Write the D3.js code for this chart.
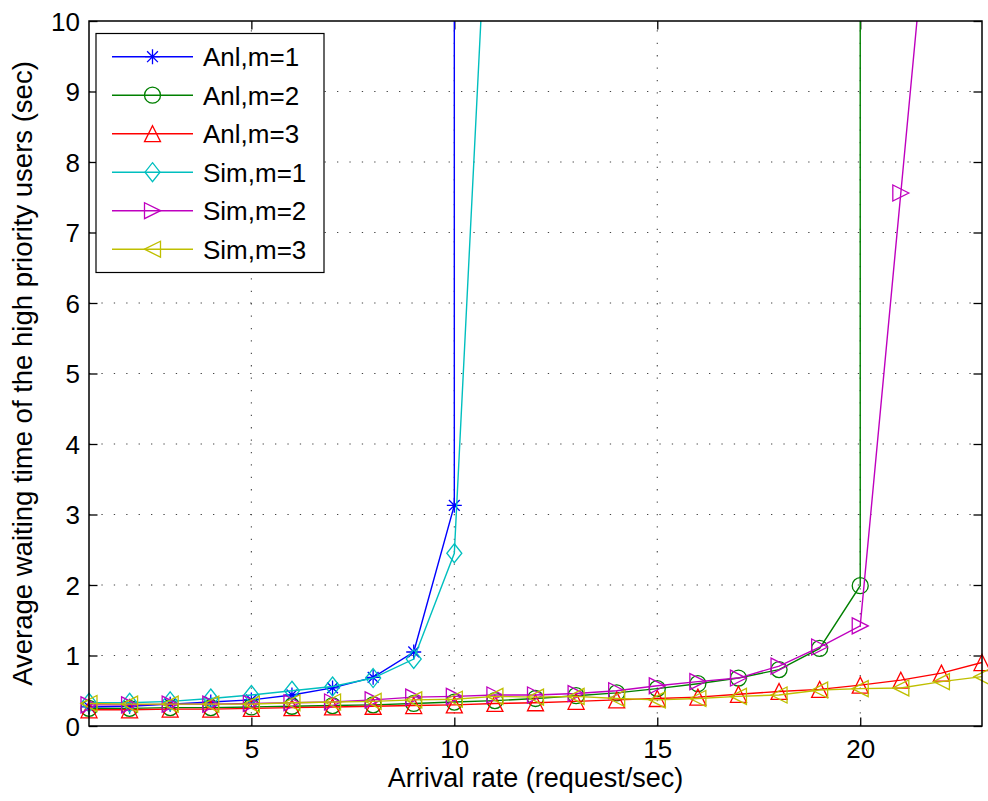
<!DOCTYPE html>
<html><head><meta charset="utf-8">
<script src="https://cdn.jsdelivr.net/npm/d3@7/dist/d3.min.js"></script>
<style>body{margin:0;background:#fff}svg{display:block}</style>
</head><body>
<svg id="c" width="988" height="801"></svg>
<script>
// ---- data ----
const xTicks = [5, 10, 15, 20];
const yTicks = [0,1,2,3,4,5,6,7,8,9,10];
const anl1X = [1,2,3,4,5,6,7,8,9,10,10];
const anl1Y = [0.27,0.28,0.31,0.34,0.37,0.44,0.54,0.69,1.05,3.13,1000];
const anl2X = [1,2,3,4,5,6,7,8,9,10,11,12,13,14,15,16,17,18,19,20,20];
const anl2Y = [0.25,0.25,0.26,0.26,0.27,0.28,0.29,0.30,0.32,0.34,0.36,0.39,0.43,0.47,0.53,0.60,0.68,0.80,1.10,1.99,1000];
const anl3X = [1,2,3,4,5,6,7,8,9,10,11,12,13,14,15,16,17,18,19,20,21,22,23];
const anl3Y = [0.23,0.23,0.24,0.24,0.25,0.26,0.27,0.28,0.29,0.30,0.32,0.33,0.35,0.37,0.39,0.41,0.45,0.49,0.52,0.58,0.65,0.75,0.90];
const sim1X = [1,2,3,4,5,6,7,8,9,10,11];
const sim1Y = [0.33,0.33,0.35,0.39,0.44,0.50,0.56,0.68,0.95,2.45,14.0];
const sim2X = [1,2,3,4,5,6,7,8,9,10,11,12,13,14,15,16,17,18,19,20,21,22];
const sim2Y = [0.30,0.30,0.31,0.31,0.32,0.33,0.34,0.37,0.41,0.42,0.44,0.44,0.46,0.50,0.57,0.63,0.68,0.85,1.12,1.42,7.56,13.7];
const sim3X = [1,2,3,4,5,6,7,8,9,10,11,12,13,14,15,16,17,18,19,20,21,22,23];
const sim3Y = [0.32,0.31,0.31,0.31,0.31,0.33,0.34,0.35,0.37,0.38,0.42,0.41,0.42,0.39,0.37,0.39,0.42,0.44,0.51,0.53,0.54,0.63,0.70];
const seriesNames = ["Anl,m=1","Anl,m=2","Anl,m=3","Sim,m=1","Sim,m=2","Sim,m=3"];

const series = [
  {name: seriesNames[0], xs: anl1X, ys: anl1Y, color: "#0000ff", marker: "star"},
  {name: seriesNames[1], xs: anl2X, ys: anl2Y, color: "#008000", marker: "circle"},
  {name: seriesNames[2], xs: anl3X, ys: anl3Y, color: "#ff0000", marker: "tri-up"},
  {name: seriesNames[3], xs: sim1X, ys: sim1Y, color: "#00bfbf", marker: "diamond"},
  {name: seriesNames[4], xs: sim2X, ys: sim2Y, color: "#bf00bf", marker: "tri-right"},
  {name: seriesNames[5], xs: sim3X, ys: sim3Y, color: "#bfbf00", marker: "tri-left"}
];

// ---- layout ----
const L = 89, R = 982, T = 21, B = 726;
const x = d3.scaleLinear().domain([1, 23]).range([L, R]);
const y = d3.scaleLinear().domain([0, 10]).range([B, T]);
const svg = d3.select("#c");
const font = "'Liberation Sans', Arial, sans-serif";

svg.append("defs").append("clipPath").attr("id","clip")
  .append("rect").attr("x",L).attr("y",T).attr("width",R-L).attr("height",B-T);

// grid
const grid = svg.append("g").attr("stroke","#444").attr("stroke-width",1.1)
  .attr("stroke-dasharray","1.3,11.1");
xTicks.forEach(v => grid.append("line").attr("x1",x(v)).attr("x2",x(v)).attr("y1",B).attr("y2",T));
yTicks.filter(v=>v>0&&v<10).forEach(v => grid.append("line").attr("x1",L).attr("x2",R).attr("y1",y(v)).attr("y2",y(v)));

// axes with inward ticks on all sides
const tl = 8.5;
const axB = svg.append("g").attr("transform",`translate(0,${B})`)
  .call(d3.axisBottom(x).tickValues(xTicks).tickSizeInner(-tl).tickSizeOuter(0).tickPadding(14));
const axT = svg.append("g").attr("transform",`translate(0,${T})`)
  .call(d3.axisTop(x).tickValues(xTicks).tickSizeInner(-tl).tickSizeOuter(0).tickFormat(""));
const axL = svg.append("g").attr("transform",`translate(${L},0)`)
  .call(d3.axisLeft(y).tickValues(yTicks).tickSizeInner(-tl).tickSizeOuter(0).tickPadding(9));
const axR = svg.append("g").attr("transform",`translate(${R},0)`)
  .call(d3.axisRight(y).tickValues(yTicks).tickSizeInner(-tl).tickSizeOuter(0).tickFormat(""));
[axB,axT,axL,axR].forEach(a => {
  a.select(".domain").remove();
  a.selectAll(".tick line").attr("stroke","#000").attr("stroke-width",1.3);
  a.selectAll("text").attr("font-family",font).attr("font-size",26).attr("fill","#000");
});
axB.selectAll("text").attr("dy","0.71em");
axL.selectAll("text").attr("dy","0.36em");

// markers
function drawMarker(g, type, cx, cy, color) {
  const s = 8;
  if (type === "circle") {
    g.append("circle").attr("cx",cx).attr("cy",cy).attr("r",s).attr("fill","none").attr("stroke",color).attr("stroke-width",1.3);
  } else if (type === "star") {
    const a = 7.5, d = a*0.72;
    const p = `M${cx-a},${cy}L${cx+a},${cy}M${cx},${cy-a}L${cx},${cy+a}M${cx-d},${cy-d}L${cx+d},${cy+d}M${cx-d},${cy+d}L${cx+d},${cy-d}`;
    g.append("path").attr("d",p).attr("stroke",color).attr("stroke-width",1.3).attr("fill","none");
  } else if (type === "diamond") {
    const p = `M${cx},${cy-9.5}L${cx+7.5},${cy}L${cx},${cy+9.5}L${cx-7.5},${cy}Z`;
    g.append("path").attr("d",p).attr("stroke",color).attr("stroke-width",1.3).attr("fill","none");
  } else {
    let p;
    if (type === "tri-up") p = `M${cx},${cy-s}L${cx+s},${cy+s}L${cx-s},${cy+s}Z`;
    if (type === "tri-right") p = `M${cx+s},${cy}L${cx-s},${cy-s}L${cx-s},${cy+s}Z`;
    if (type === "tri-left") p = `M${cx-s},${cy}L${cx+s},${cy-s}L${cx+s},${cy+s}Z`;
    g.append("path").attr("d",p).attr("stroke",color).attr("stroke-width",1.3).attr("fill","none");
  }
}

const line = d3.line().x(d => x(d[0])).y(d => y(d[1]));
series.forEach(s => {
  const pts = s.xs.map((v,i) => [v, s.ys[i]]);
  svg.append("path").attr("clip-path","url(#clip)").attr("d", line(pts))
    .attr("fill","none").attr("stroke",s.color).attr("stroke-width",1.4);
  const mg = svg.append("g");
  pts.filter(p => p[1] <= 10 && p[0] <= 23).forEach(p => drawMarker(mg, s.marker, x(p[0]), y(p[1]), s.color));
});

// box
svg.append("rect").attr("x",L).attr("y",T).attr("width",R-L).attr("height",B-T)
  .attr("fill","none").attr("stroke","#000").attr("stroke-width",1.5);

// labels
svg.append("text").attr("x",(L+R)/2).attr("y",787).attr("text-anchor","middle")
  .attr("font-family",font).attr("font-size",27).text("Arrival rate (request/sec)");
svg.append("text").attr("transform",`translate(32,${(T+B)/2}) rotate(-90)`).attr("text-anchor","middle")
  .attr("font-family",font).attr("font-size",27.5).text("Average waiting time of the high priority users (sec)");

// legend
const lg = svg.append("g");
lg.append("rect").attr("x",96).attr("y",33.5).attr("width",228).attr("height",239)
  .attr("fill","#fff").attr("stroke","#000").attr("stroke-width",1.2);
series.forEach((s,i) => {
  const yy = 56.7 + i*38.5;
  lg.append("line").attr("x1",112).attr("x2",193).attr("y1",yy).attr("y2",yy).attr("stroke",s.color).attr("stroke-width",1.4);
  drawMarker(lg, s.marker, 152.5, yy, s.color);
  lg.append("text").attr("x",203).attr("y",yy).attr("dy","0.36em").attr("font-family",font).attr("font-size",26).text(s.name);
});
</script>
</body></html>
